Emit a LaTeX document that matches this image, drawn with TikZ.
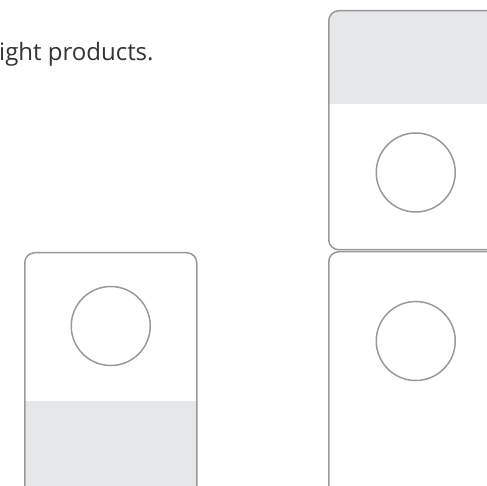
\documentclass[tikz,border=0pt]{standalone}
\usepackage{fontspec}
\setmainfont{Open Sans}
\usepackage{xcolor}
\usetikzlibrary{positioning,calc}
\definecolor{cardline}{RGB}{153, 153, 155}
\definecolor{cardband}{RGB}{230, 231, 232}
\definecolor{captiontext}{RGB}{51, 51, 51}

\begin{document}
\begin{tikzpicture}[x=1pt, y=-1pt,
    card/.style={draw=cardline, line width=1.5pt, rounded corners=10pt, minimum width=174pt, inner sep=0pt, anchor=north west},
    bandtop/.style={path picture={\fill[cardband, sharp corners] (path picture bounding box.north west) rectangle ([yshift=-#1]path picture bounding box.north east);}},
    bandbottom/.style={path picture={\fill[cardband, sharp corners] (path picture bounding box.south west) rectangle ([yshift=#1]path picture bounding box.south east);}},
    slot/.style={draw=cardline, line width=1.5pt, circle, minimum size=79pt, inner sep=0pt}]
    \useasboundingbox (0,0) rectangle (487,486);
    \clip (0,0) rectangle (487,486);

    \node [anchor=base west, inner sep=0pt, text=captiontext, font=\fontsize{24}{28}\selectfont] (caption) at (-1,61) {ight products.};

    % left card, band at the bottom
    \node [card, minimum width=172pt, minimum height=258pt, bandbottom=110pt] (leftcard) at (24,252) {};
    \node [slot, yshift=-74pt] (lefthole) at (leftcard.north) {};

    % right column, two cards on top of each other
    \node [card, minimum height=239pt, bandtop=93pt] (uppercard) at (328,10) {};
    \node [slot, yshift=78pt] (upperhole) at (uppercard.south) {};
    \node [card, minimum height=258pt] (lowercard) at (328,251) {};
    \node [slot, yshift=-90pt] (lowerhole) at (lowercard.north) {};
\end{tikzpicture}
\end{document}
